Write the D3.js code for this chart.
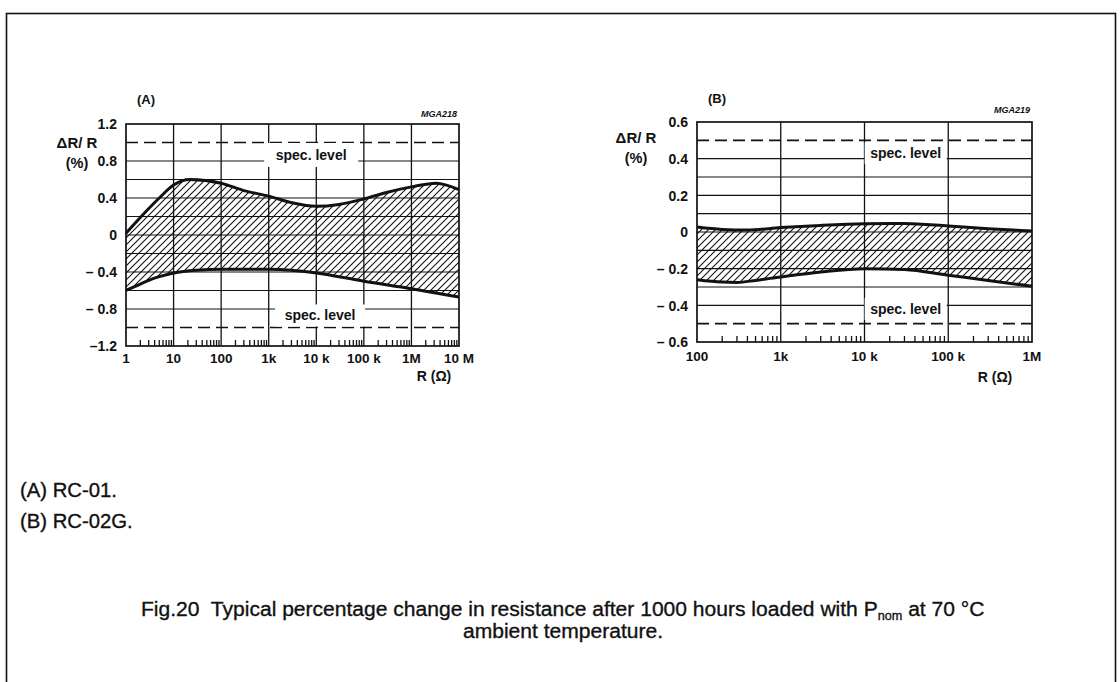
<!DOCTYPE html>
<html><head><meta charset="utf-8">
<script src="https://cdn.jsdelivr.net/npm/d3@7/dist/d3.min.js"></script>
<style>
body{margin:0;background:#fff}
svg{display:block}
text{font-family:"Liberation Sans",Arial,Helvetica,sans-serif;fill:#111;white-space:pre}
text.note{stroke:#111;stroke-width:0.35px}
</style>
</head><body>
<svg id="c" width="1120" height="682"></svg>
<script>
// ---------- Panel A (RC-01) ----------
const aXTicks = [1, 10, 100, 1e3, 1e4, 1e5, 1e6, 1e7];
const aXTickLabels = ["1", "10", "100", "1k", "10 k", "100 k", "1M", "10 M"];
const aYTicks = [1.2, 0.8, 0.4, 0, -0.4, -0.8, -1.2];
const aYTickLabels = ["1.2", "0.8", "0.4", "0", "\u2013 0.4", "\u2013 0.8", "\u20131.2"];
const aGridY = [0.8, 0.6, 0.4, 0.2, 0, -0.2, -0.4, -0.6, -0.8];
const aSpec = [1.0, -1.0];
const aUpperR = [1, 2, 5, 10, 22, 100, 300, 1e3, 3e3, 1e4, 3e4, 1e5, 3e5, 1e6, 3.3e6, 1e7];
const aUpperV = [0.02, 0.19, 0.40, 0.54, 0.60, 0.56, 0.48, 0.42, 0.35, 0.31, 0.33, 0.39, 0.46, 0.52, 0.56, 0.49];
const aLowerR = [1, 2, 3, 5, 10, 30, 100, 1e3, 3e3, 1e4, 1e5, 1e6, 1e7];
const aLowerV = [-0.60, -0.53, -0.49, -0.45, -0.41, -0.38, -0.37, -0.37, -0.38, -0.41, -0.50, -0.58, -0.67];

// ---------- Panel B (RC-02G) ----------
const bXTicks = [100, 1e3, 1e4, 1e5, 1e6];
const bXTickLabels = ["100", "1k", "10 k", "100 k", "1M"];
const bYTicks = [0.6, 0.4, 0.2, 0, -0.2, -0.4, -0.6];
const bYTickLabels = ["0.6", "0.4", "0.2", "0", "\u2013 0.2", "\u2013 0.4", "\u2013 0.6"];
const bGridY = [0.4, 0.3, 0.2, 0.1, 0, -0.1, -0.2, -0.3, -0.4];
const bSpec = [0.5, -0.5];
const bUpperR = [100, 200, 400, 1e3, 3e3, 1e4, 3e4, 1e5, 3e5, 1e6];
const bUpperV = [0.027, 0.014, 0.011, 0.024, 0.036, 0.045, 0.047, 0.033, 0.018, 0.005];
const bLowerR = [100, 200, 300, 500, 1e3, 3e3, 1e4, 3e4, 1e5, 3e5, 1e6];
const bLowerV = [-0.26, -0.273, -0.275, -0.264, -0.245, -0.218, -0.200, -0.205, -0.236, -0.264, -0.296];

const svg = d3.select("#c");
const defs = svg.append("defs");
const pat = defs.append("pattern").attr("id", "hatch")
  .attr("patternUnits", "userSpaceOnUse").attr("width", 7).attr("height", 7);
pat.append("path").attr("d", "M-1,1 L1,-1 M0,7 L7,0 M6,8 L8,6")
  .attr("stroke", "#111").attr("stroke-width", 1.1);

// outer frame
svg.append("rect").attr("x", 6.5).attr("y", 13.5).attr("width", 1109).attr("height", 690)
  .attr("fill", "none").attr("stroke", "#111").attr("stroke-width", 1.6);

// scale font size so the text spans the target width
function fitSize(sel, base, target) {
  const w = sel.node().getComputedTextLength();
  const fs = base * target / w;
  sel.attr("font-size", fs.toFixed(2));
  return fs;
}

function panel(cfg) {
  const g = svg.append("g");
  const x = d3.scaleLog().domain(cfg.xDomain).range(cfg.xRange);
  const y = d3.scaleLinear().domain(cfg.yDomain).range(cfg.yRange);
  const [x0, x1] = cfg.xRange, [y0, y1] = cfg.yRange; // y0 bottom, y1 top

  // hatched band
  const line = d3.line().x(d => x(d[0])).y(d => y(d[1])).curve(d3.curveMonotoneX);
  const up = cfg.upR.map((r, i) => [r, cfg.upV[i]]);
  const lo = cfg.loR.map((r, i) => [r, cfg.loV[i]]);
  const upPath = line(up);
  const loRevPath = line(lo.slice().reverse());
  g.append("path").attr("d", upPath + "L" + loRevPath.slice(1) + "Z")
    .attr("fill", "url(#hatch)").attr("stroke", "none");

  // horizontal grid
  g.selectAll(".hg").data(cfg.gridY).join("line")
    .attr("x1", x0).attr("x2", x1).attr("y1", d => y(d)).attr("y2", d => y(d))
    .attr("stroke", "#111").attr("stroke-width", 1.1);
  // vertical grid at decades
  g.selectAll(".vg").data(cfg.xTicks.slice(1, -1)).join("line")
    .attr("x1", d => x(d)).attr("x2", d => x(d)).attr("y1", y0).attr("y2", y1)
    .attr("stroke", "#111").attr("stroke-width", 1.3);
  // minor ticks along bottom
  const minors = [];
  cfg.xTicks.slice(0, -1).forEach(d => { for (let k = 2; k <= 9; k++) minors.push(d * k); });
  g.selectAll(".mt").data(minors).join("line")
    .attr("x1", d => x(d)).attr("x2", d => x(d)).attr("y1", y0).attr("y2", y0 - 6)
    .attr("stroke", "#111").attr("stroke-width", 1.3);
  // spec dashed lines
  g.selectAll(".sp").data(cfg.spec).join("line")
    .attr("x1", x0).attr("x2", x1).attr("y1", d => y(d)).attr("y2", d => y(d))
    .attr("stroke", "#111").attr("stroke-width", 1.7).attr("stroke-dasharray", "12,6");

  // curves
  g.append("path").attr("d", upPath).attr("fill", "none").attr("stroke", "#111").attr("stroke-width", 3);
  g.append("path").attr("d", line(lo)).attr("fill", "none").attr("stroke", "#111").attr("stroke-width", 3);

  // spec level labels with white boxes
  cfg.specLabels.forEach(s => {
    g.append("rect").attr("x", x(s.r) - s.w / 2).attr("y", y(s.v) - s.h / 2)
      .attr("width", s.w).attr("height", s.h).attr("fill", "#fff");
    g.append("text").attr("x", x(s.r)).attr("y", y(s.v)).attr("dy", "0.35em")
      .attr("text-anchor", "middle").attr("font-size", 14).attr("font-weight", "bold").text("spec. level");
  });

  // plot frame
  g.append("rect").attr("x", x0).attr("y", y1).attr("width", x1 - x0).attr("height", y0 - y1)
    .attr("fill", "none").attr("stroke", "#111").attr("stroke-width", 1.7);

  // y tick labels
  g.selectAll(".yl").data(cfg.yTicks).join("text")
    .attr("x", x0 - 9).attr("y", d => y(d)).attr("dy", "0.38em")
    .attr("text-anchor", "end").attr("font-size", 14).attr("font-weight", "bold")
    .text((d, i) => cfg.yLabels[i]);
  // x tick labels
  g.selectAll(".xl").data(cfg.xTicks).join("text")
    .attr("x", d => x(d)).attr("y", cfg.xLabY)
    .attr("text-anchor", "middle").attr("font-size", 13.5).attr("font-weight", "bold")
    .text((d, i) => cfg.xLabels[i]);

  // axis titles
  g.append("text").attr("x", cfg.yTitleX).attr("y", cfg.yTitleY).attr("text-anchor", "middle")
    .attr("font-size", 15).attr("font-weight", "bold").text("\u0394R/ R");
  g.append("text").attr("x", cfg.yTitleX).attr("y", cfg.yTitleY + 20).attr("text-anchor", "middle")
    .attr("font-size", 14.5).attr("font-weight", "bold").text("(%)");
  g.append("text").attr("x", cfg.xTitleX).attr("y", cfg.xTitleY).attr("text-anchor", "middle")
    .attr("font-size", 14).attr("font-weight", "bold").text("R (\u03A9)");
  g.append("text").attr("x", cfg.tagX).attr("y", cfg.tagY).attr("font-size", 13)
    .attr("font-weight", "bold").text(cfg.tag);
  g.append("text").attr("x", x1 - 2).attr("y", cfg.codeY).attr("text-anchor", "end")
    .attr("font-size", 9).attr("font-weight", "bold").attr("font-style", "italic").text(cfg.code);
}

panel({
  xDomain: [1, 1e7], xRange: [126, 459], yDomain: [-1.2, 1.2], yRange: [346, 124],
  xTicks: aXTicks, xLabels: aXTickLabels, yTicks: aYTicks, yLabels: aYTickLabels,
  gridY: aGridY, spec: aSpec, upR: aUpperR, upV: aUpperV, loR: aLowerR, loV: aLowerV,
  specLabels: [{r: 7800, v: 0.865, w: 94, h: 24}, {r: 12000, v: -0.87, w: 90, h: 22}],
  xLabY: 363, xTitleX: 434, xTitleY: 381, yTitleX: 77, yTitleY: 148,
  tag: "(A)", tagX: 137, tagY: 104, code: "MGA218", codeY: 117
});
panel({
  xDomain: [100, 1e6], xRange: [697, 1032], yDomain: [-0.6, 0.6], yRange: [342, 122],
  xTicks: bXTicks, xLabels: bXTickLabels, yTicks: bYTicks, yLabels: bYTickLabels,
  gridY: bGridY, spec: bSpec, upR: bUpperR, upV: bUpperV, loR: bLowerR, loV: bLowerV,
  specLabels: [{r: 31000, v: 0.43, w: 82, h: 22}, {r: 31000, v: -0.42, w: 82, h: 22}],
  xLabY: 361, xTitleX: 995, xTitleY: 382, yTitleX: 636, yTitleY: 143,
  tag: "(B)", tagX: 708, tagY: 103, code: "MGA219", codeY: 113
});

// notes and caption
const n1 = svg.append("text").attr("class", "note").attr("x", 20).attr("y", 497).attr("font-size", 17).text("(A) RC-01.");
const nfs = fitSize(n1, 17, 97);
svg.append("text").attr("class", "note").attr("x", 20).attr("y", 528).attr("font-size", nfs.toFixed(2)).text("(B) RC-02G.");

const cap = svg.append("text").attr("class", "note").attr("x", 141).attr("y", 616).attr("font-size", 17);
cap.append("tspan").text("Fig.20  Typical percentage change in resistance after 1000 hours loaded with P");
cap.append("tspan").attr("dy", 4).attr("font-size", "0.6em").text("nom");
cap.append("tspan").attr("dy", -4).text(" at 70 \u00B0C");
const cfs = fitSize(cap, 17, 844);
svg.append("text").attr("class", "note").attr("x", 563).attr("y", 638).attr("text-anchor", "middle")
  .attr("font-size", cfs.toFixed(2)).text("ambient temperature.");
</script>
</body></html>
